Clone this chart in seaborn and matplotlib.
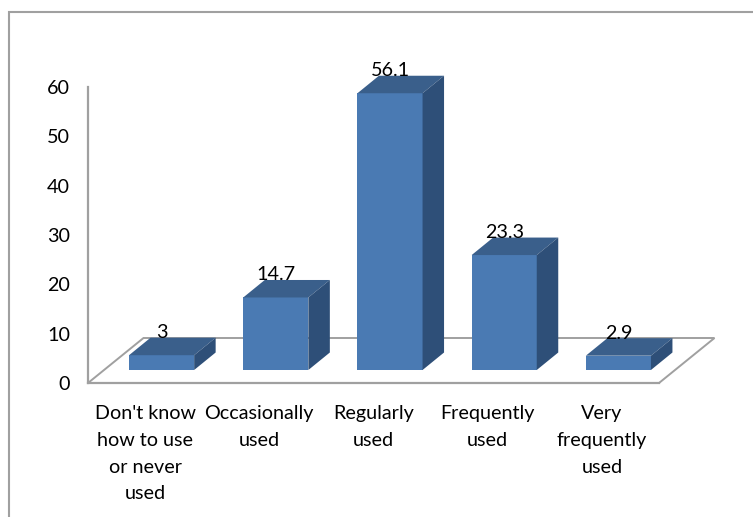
import matplotlib
matplotlib.use("Agg")
import matplotlib.pyplot as plt
import pandas as pd
import seaborn as sns
from matplotlib.lines import Line2D
from matplotlib.patches import Polygon

categories = ["Don't know\nhow to use\nor never\nused", "Occasionally\nused",
              "Regularly\nused", "Frequently\nused", "Very\nfrequently\nused"]
values = [3, 14.7, 56.1, 23.3, 2.9]
value_labels = ["3", "14.7", "56.1", "23.3", "2.9"]

W, H = 753, 517
FRONT = "#4a7ab3"
TOP = "#3a5f8b"
SIDE = "#2e4f78"
LINE = "#a0a0a0"

sns.set_theme(style="white")
plt.rcParams["font.family"] = ["Lato", "DejaVu Sans"]

fig = plt.figure(figsize=(W / 100, H / 100), dpi=100, facecolor="white")


def axes_from_pixels(left, right, top, bottom):
    return fig.add_axes([left / W, 1 - bottom / H, (right - left) / W, (bottom - top) / H])


# Chart frame: only its top and left edges fall inside the canvas
fig.add_artist(Line2D([9 / W, 9 / W, 1], [0, 1 - 12 / H, 1 - 12 / H], transform=fig.transFigure,
                      color=LINE, linewidth=1.5, solid_joinstyle="miter"))

# Axis box holds the scale; the bars sit on a copy shifted into the floor's depth
ax = axes_from_pixels(88, 659, 87, 383)
bar_ax = axes_from_pixels(104.5, 675.5, 74, 370)
for a in (ax, bar_ax):
    a.set_xlim(-0.5, 4.5)
    a.set_ylim(0, 60)
    a.patch.set_alpha(0)
bar_ax.set_zorder(ax.get_zorder() + 1)

frame = pd.DataFrame({"category": categories, "value": values})
sns.barplot(data=frame, x="category", y="value", color=FRONT, saturation=1, width=0.57,
            linewidth=0, edgecolor="none", ax=bar_ax)
bar_ax.set_xlim(-0.5, 4.5)
bar_ax.set_ylim(0, 60)
bar_ax.axis("off")

# Depth of the bars and of the floor, in data units
bar_dx, bar_dy = 21.5 / 114.2, 17.5 * 60 / 296
floor_dx, floor_dy = 55.5 / 114.2, 45 * 60 / 296

for patch, label in zip(bar_ax.patches, value_labels):
    x0, w, h = patch.get_x(), patch.get_width(), patch.get_height()
    x1 = x0 + w
    bar_ax.add_patch(Polygon([(x0, h), (x1, h), (x1 + bar_dx, h + bar_dy), (x0 + bar_dx, h + bar_dy)],
                             closed=True, facecolor=TOP, edgecolor="none", clip_on=False))
    bar_ax.add_patch(Polygon([(x1, 0), (x1 + bar_dx, bar_dy), (x1 + bar_dx, h + bar_dy), (x1, h)],
                             closed=True, facecolor=SIDE, edgecolor="none", clip_on=False))
    bar_ax.text(x0 + w / 2, h + bar_dy - 0.7, label, ha="center", va="bottom", fontsize=14.2,
                color="black", clip_on=False)

# Floor outline
ax.plot([-0.5, -0.5 + floor_dx, 4.5 + floor_dx, 4.5], [0, floor_dy, floor_dy, 0],
        color=LINE, linewidth=1.4, clip_on=False, solid_joinstyle="miter")

sns.despine(ax=ax, top=True, right=True)
for side in ("left", "bottom"):
    ax.spines[side].set_color(LINE)
    ax.spines[side].set_linewidth(1.6)

ax.set_xticks(range(len(categories)))
ax.set_xticklabels(categories, fontsize=14.2, linespacing=1.69, color="black")
ax.set_yticks(range(0, 61, 10))
ax.tick_params(axis="y", labelsize=14.2, length=0, pad=13, labelcolor="black")
ax.tick_params(axis="x", length=0, pad=16)

fig.savefig("out.png", dpi=100)
